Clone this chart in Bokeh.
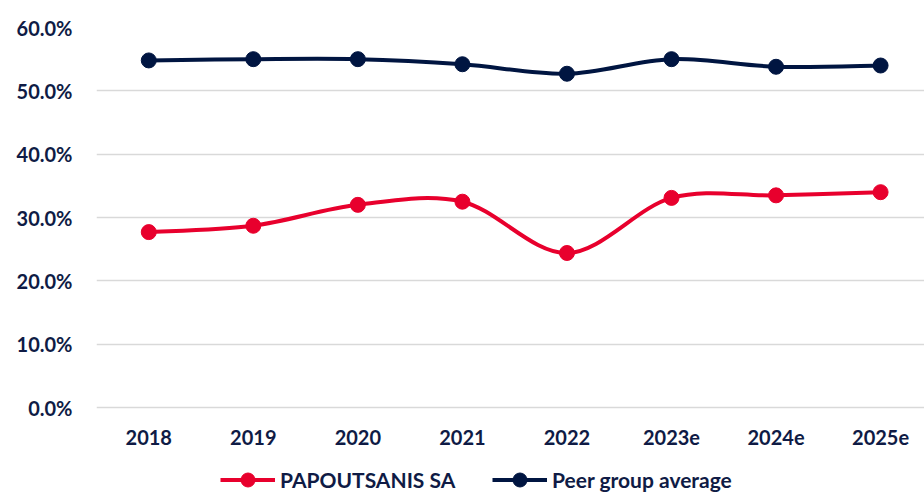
import numpy as np
from bokeh.plotting import figure
from bokeh.models import (Range1d, FixedTicker, Legend, LegendItem,
                          ColumnDataSource, NumeralTickFormatter)
from bokeh.embed import file_html
from bokeh.resources import INLINE

categories = ["2018", "2019", "2020", "2021", "2022", "2023e", "2024e", "2025e"]
papoutsanis = [0.277, 0.287, 0.320, 0.325, 0.244, 0.331, 0.335, 0.340]
peer_avg = [0.548, 0.550, 0.550, 0.542, 0.527, 0.550, 0.538, 0.540]
y_ticks = [0.0, 0.1, 0.2, 0.3, 0.4, 0.5, 0.6]

RED = "#E8002D"
NAVY = "#001541"
TEXT = "#0F1B45"
FONT = "Lato"

xs = list(range(len(categories)))


def smooth_source(x, y, t=1.0 / 6.0):
    n = len(x)
    d = dict(x0=[], y0=[], x1=[], y1=[], cx0=[], cy0=[], cx1=[], cy1=[])
    for i in range(n - 1):
        pm = max(i - 1, 0)
        pp = min(i + 2, n - 1)
        d["x0"].append(x[i]); d["y0"].append(y[i])
        d["x1"].append(x[i + 1]); d["y1"].append(y[i + 1])
        d["cx0"].append(x[i] + (x[i + 1] - x[pm]) * t)
        d["cy0"].append(y[i] + (y[i + 1] - y[pm]) * t)
        d["cx1"].append(x[i + 1] - (x[pp] - x[i]) * t)
        d["cy1"].append(y[i + 1] - (y[pp] - y[i]) * t)
    return ColumnDataSource(d)


p = figure(width=924, height=493, output_backend="svg", toolbar_location=None,
           x_range=Range1d(-0.5, 7.42), y_range=Range1d(-0.1357, 0.6),
           min_border_left=96, min_border_right=0, min_border_top=27,
           min_border_bottom=0)
p.outline_line_color = None
p.background_fill_color = "white"
p.border_fill_color = "white"

p.xgrid.visible = False
p.ygrid.ticker = FixedTicker(ticks=y_ticks)
p.ygrid.grid_line_color = "#D9D9D9"
p.ygrid.grid_line_width = 1.5

p.yaxis.ticker = FixedTicker(ticks=y_ticks)
p.yaxis.formatter = NumeralTickFormatter(format="0.0%")
p.xaxis.ticker = FixedTicker(ticks=xs)
p.xaxis.major_label_overrides = {i: c for i, c in enumerate(categories)}
p.xaxis.fixed_location = 0

for ax in (p.xaxis, p.yaxis):
    ax.axis_line_color = None
    ax.major_tick_line_color = None
    ax.minor_tick_line_color = None
    ax.major_tick_out = 0
    ax.major_tick_in = 0
    ax.major_label_text_font = FONT
    ax.major_label_text_font_style = "bold"
    ax.major_label_text_font_size = "20px"
    ax.major_label_text_color = TEXT
p.yaxis.major_label_standoff = 24
p.xaxis.major_label_standoff = 22

r_src = smooth_source(xs, papoutsanis)
n_src = smooth_source(xs, peer_avg)

r_line = p.bezier(x0="x0", y0="y0", x1="x1", y1="y1", cx0="cx0", cy0="cy0",
                  cx1="cx1", cy1="cy1", source=r_src, line_color=RED, line_width=4)
r_pts = p.scatter(xs, papoutsanis, size=15, fill_color=RED, line_color=RED)
n_line = p.bezier(x0="x0", y0="y0", x1="x1", y1="y1", cx0="cx0", cy0="cy0",
                  cx1="cx1", cy1="cy1", source=n_src, line_color=NAVY, line_width=4)
n_pts = p.scatter(xs, peer_avg, size=15, fill_color=NAVY, line_color=NAVY)


def make_legend(label, renderers, loc):
    lg = Legend(items=[LegendItem(label=label, renderers=renderers)],
                location=loc, orientation="horizontal",
                glyph_width=55, glyph_height=35, label_standoff=5,
                padding=0, margin=0, spacing=0,
                border_line_color=None, background_fill_alpha=0,
                label_text_font=FONT, label_text_font_style="bold",
                label_text_font_size="21px", label_text_color=TEXT)
    p.add_layout(lg, "center")


make_legend("PAPOUTSANIS SA", [r_line, r_pts], (124, -4))
make_legend("Peer group average", [n_line, n_pts], (396, -4))

open("out.html", "w").write(file_html(p, INLINE))
